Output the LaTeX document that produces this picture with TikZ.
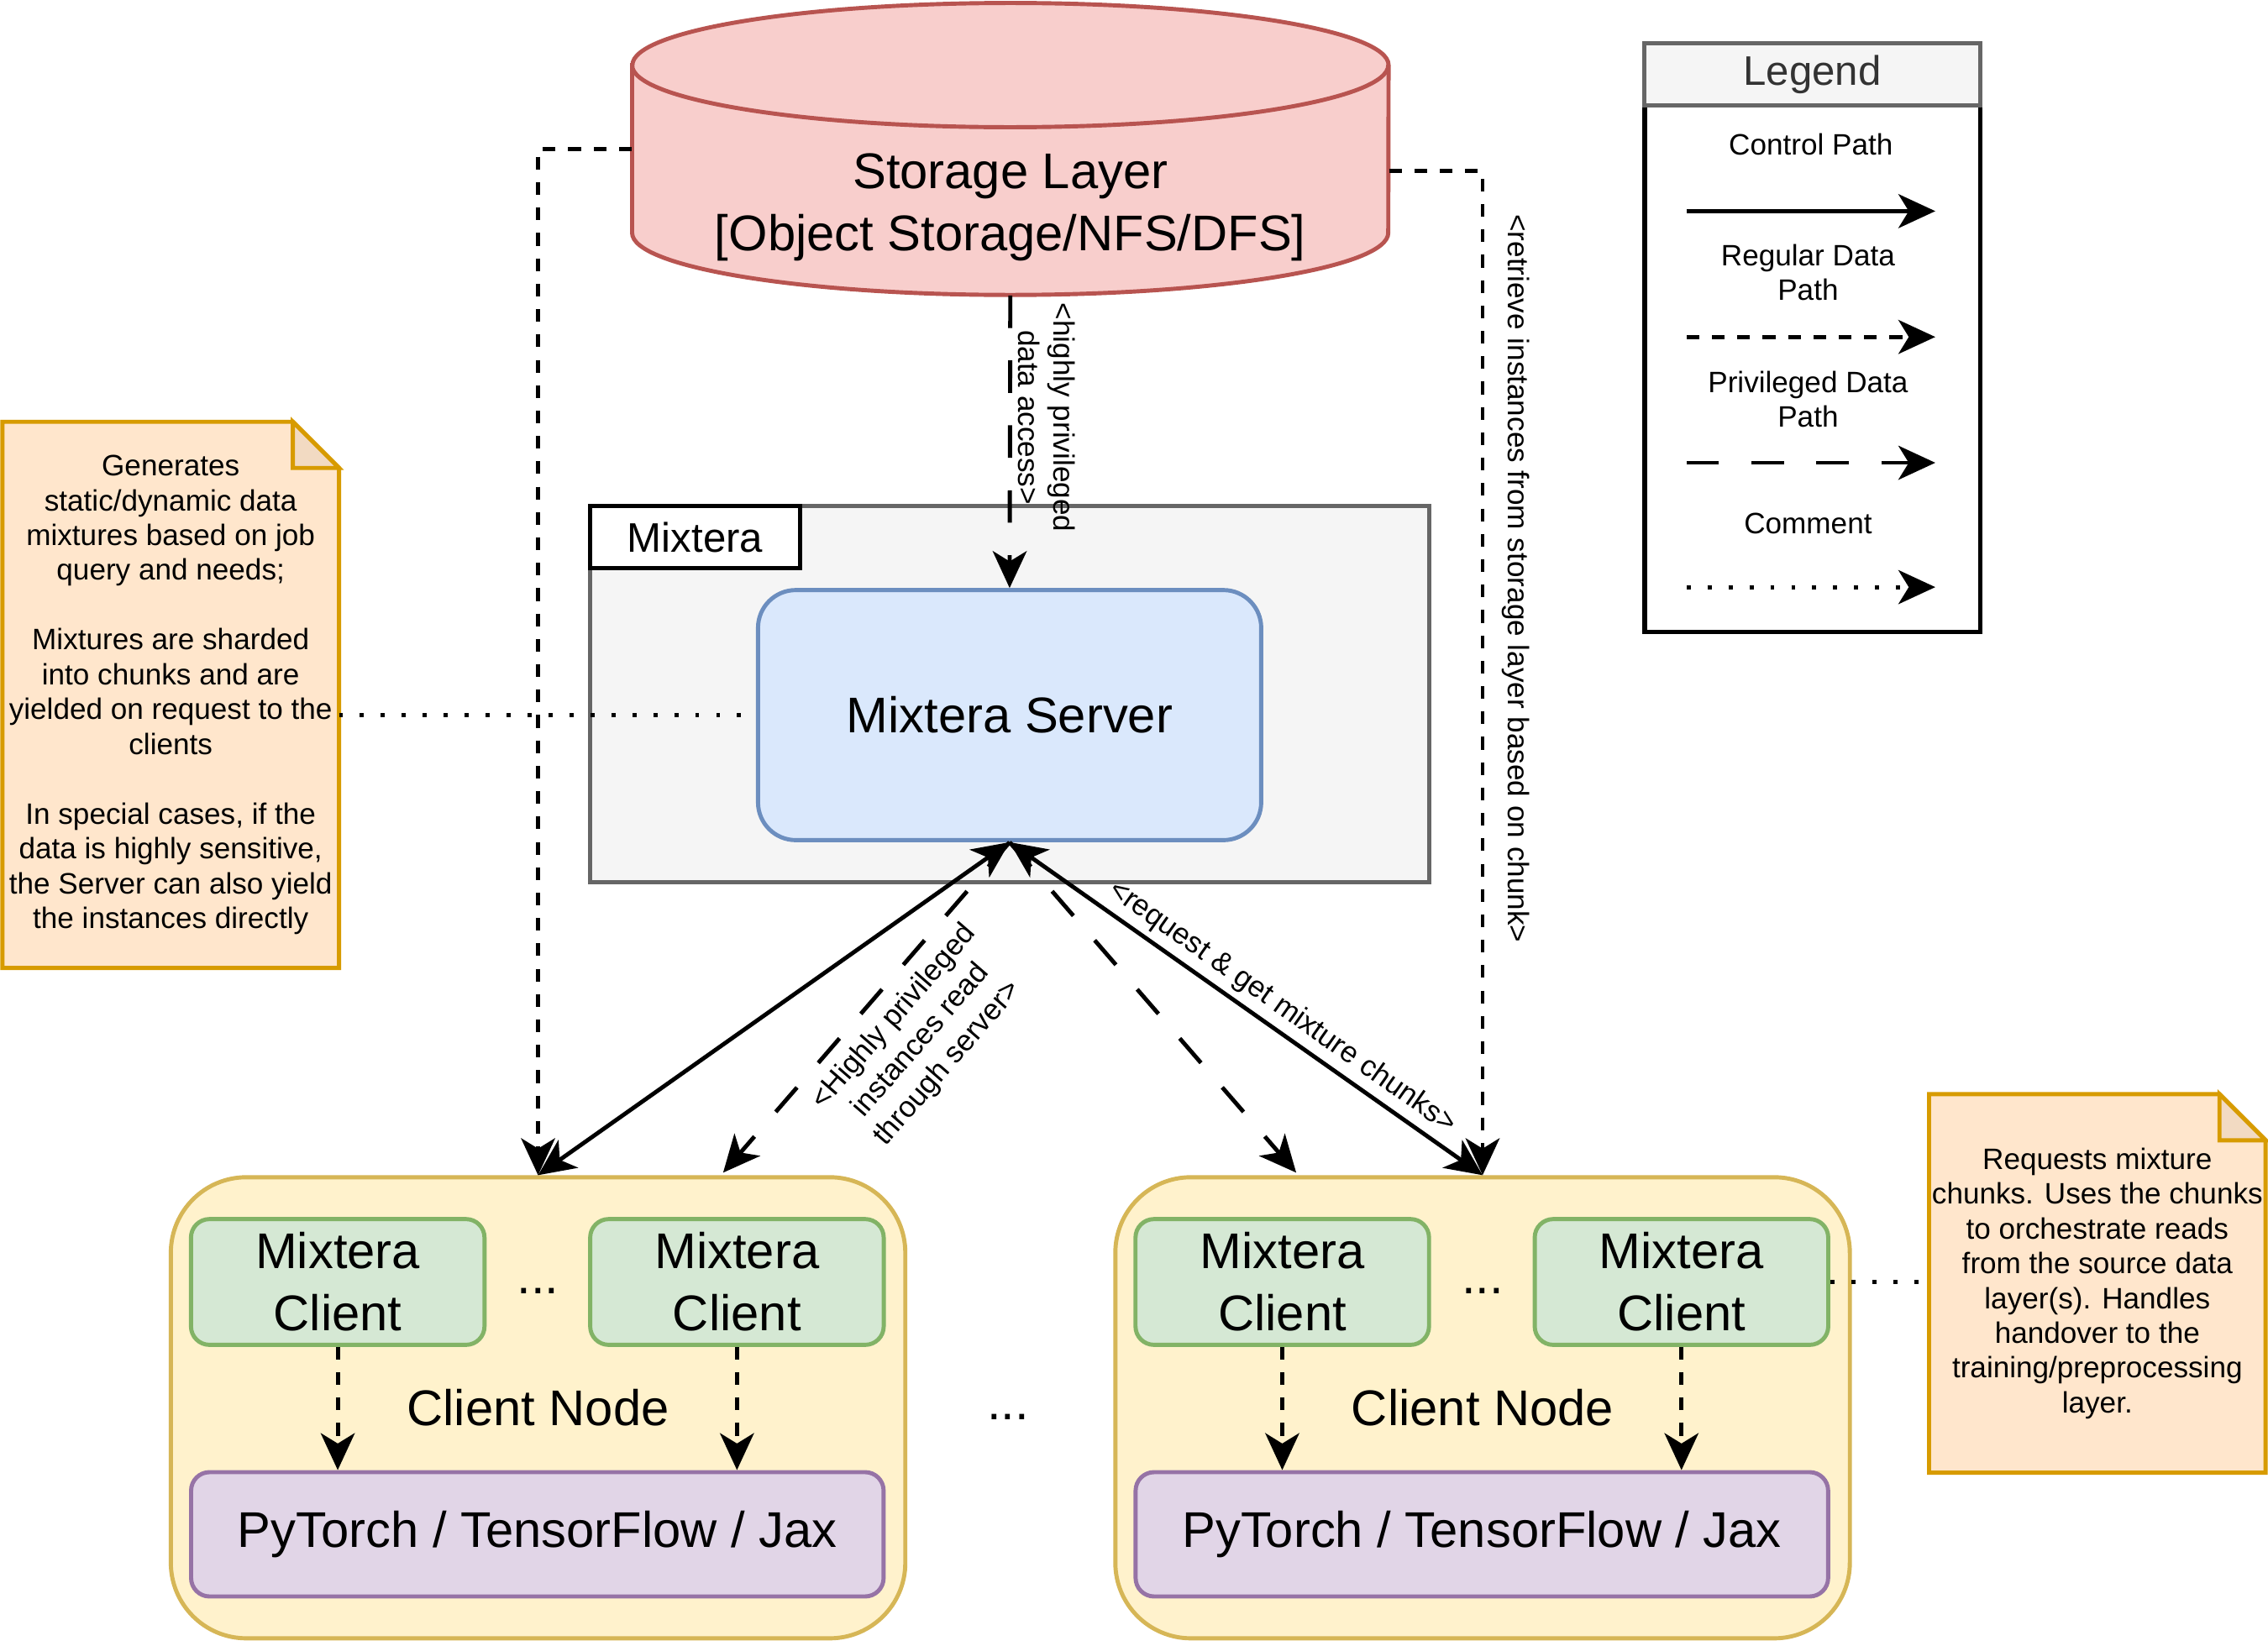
\documentclass[tikz,border=0pt]{standalone}
\usepackage{fontspec}
\setmainfont{Liberation Sans}
\usetikzlibrary{arrows.meta,backgrounds}
\definecolor{storefill}{HTML}{F8CECC}
\definecolor{storeline}{HTML}{B85450}
\definecolor{greyfill}{HTML}{F5F5F5}
\definecolor{greyline}{HTML}{666666}
\definecolor{serverfill}{HTML}{DAE8FC}
\definecolor{serverline}{HTML}{6C8EBF}
\definecolor{notefill}{HTML}{FFE6CC}
\definecolor{noteline}{HTML}{D79B00}
\definecolor{notefold}{HTML}{F2DAC2}
\definecolor{nodefill}{HTML}{FFF2CC}
\definecolor{nodeline}{HTML}{D6B656}
\definecolor{clientfill}{HTML}{D5E8D4}
\definecolor{clientline}{HTML}{82B366}
\definecolor{torchfill}{HTML}{E1D5E7}
\definecolor{torchline}{HTML}{9673A6}
\definecolor{legendtext}{HTML}{333333}

\begin{document}
\begin{tikzpicture}[x=0.01722cm, y=-0.01722cm,
        >={Stealth[length=12.5pt, width=11.5pt, inset=3.5pt]},
        bigtext/.style={font=\fontsize{17}{21}\selectfont, align=center},
        midtext/.style={font=\fontsize{14}{17}\selectfont, align=center},
        smalltext/.style={font=\fontsize{10}{11.8}\selectfont, align=center},
        lbl/.style={font=\fontsize{10}{12}\selectfont, align=center, inner sep=2pt},
        ctrl/.style={line width=1.4pt},
        reg/.style={line width=1.4pt, dash pattern=on 4.3pt off 4.3pt},
        priv/.style={line width=1.4pt, dash pattern=on 11pt off 11pt},
        cmt/.style={line width=1.4pt, dash pattern=on 1.4pt off 5.7pt},
        storebox/.style={minimum width=9.006cm, minimum height=3.478cm, inner sep=0pt},
        contbox/.style={draw=greyline, fill=greyfill, line width=1.4pt, minimum width=9.988cm, minimum height=4.477cm, inner sep=0pt},
        tagbox/.style={draw=black, fill=white, line width=1.4pt, minimum width=2.497cm, minimum height=0.74cm, inner sep=0pt, midtext},
        serverbox/.style={draw=serverline, fill=serverfill, line width=1.4pt, rounded corners=0.45cm, minimum width=5.993cm, minimum height=2.979cm, bigtext},
        notebox/.style={minimum width=3.995cm, inner sep=0pt, smalltext},
        notepaper/.style={draw=noteline, fill=notefill, line width=1.4pt},
        notecorner/.style={draw=noteline, fill=notefold, line width=1.4pt, line join=miter},
        cnode/.style={draw=nodeline, fill=nodefill, line width=1.4pt, rounded corners=0.9cm, minimum width=8.748cm, minimum height=5.493cm, bigtext},
        client/.style={draw=clientline, fill=clientfill, line width=1.4pt, rounded corners=0.22cm, minimum width=3.496cm, minimum height=1.498cm, inner sep=0pt, bigtext},
        torch/.style={draw=torchline, fill=torchfill, line width=1.4pt, rounded corners=0.22cm, minimum width=8.248cm, minimum height=1.481cm, bigtext},
        leghead/.style={draw=greyline, fill=greyfill, line width=1.4pt, minimum width=3.995cm, minimum height=0.74cm, inner sep=0pt, midtext, text=legendtext},
        legbody/.style={draw=black, line width=1.5pt, minimum width=3.995cm, minimum height=6.268cm, inner sep=0pt}]
        \useasboundingbox (0,0) rectangle (1568,1138);

        \node[storebox] (store) at (698.5,103) {};
        \filldraw[draw=storeline, fill=storefill, line width=1.4pt] (437,45) -- (437,161)
            arc[start angle=180, end angle=360, x radius=4.503cm, y radius=0.740cm] -- (960,45)
            arc[start angle=0, end angle=180, x radius=4.503cm, y radius=0.740cm] -- cycle;
        \draw[storeline, line width=1.4pt] (437,45) arc[start angle=180, end angle=360, x radius=4.503cm, y radius=0.740cm];
        \node[bigtext] (storetext) at (698.5,143.5) {Storage Layer\\{}[Object Storage/NFS/DFS]};

        \node[contbox] (mixtera) at (698,480) {};
        \node[tagbox, anchor=north west] (mixtag) at (mixtera.north west) {Mixtera};
        \node[serverbox] (server) at (698,494.5) {Mixtera Server};

        \node[notebox, minimum height=6.492cm] (noteL) at (118,480.5) {Generates\\static/dynamic data\\mixtures based on job\\query and needs;\\[11.8pt]Mixtures are sharded\\into chunks and are\\yielded on request to the\\clients\\[11.8pt]In special cases, if the\\data is highly sensitive,\\the Server can also yield\\the instances directly};
        \node[notebox, minimum height=4.494cm] (noteR) at (1450,887.5) {Requests mixture\\chunks. Uses the chunks\\to orchestrate reads\\from the source data\\layer(s). Handles\\handover to the\\training/preprocessing\\layer.};
        \begin{scope}[on background layer]
            \filldraw[notepaper] (noteL.north west) -- ([xshift=-0.55cm]noteL.north east) -- ([yshift=-0.55cm]noteL.north east) -- (noteL.south east) -- (noteL.south west) -- cycle;
            \filldraw[notecorner] ([xshift=-0.55cm]noteL.north east) -- ([xshift=-0.55cm, yshift=-0.55cm]noteL.north east) -- ([yshift=-0.55cm]noteL.north east) -- cycle;
            \filldraw[notepaper] (noteR.north west) -- ([xshift=-0.55cm]noteR.north east) -- ([yshift=-0.55cm]noteR.north east) -- (noteR.south east) -- (noteR.south west) -- cycle;
            \filldraw[notecorner] ([xshift=-0.55cm]noteR.north east) -- ([xshift=-0.55cm, yshift=-0.55cm]noteR.north east) -- ([yshift=-0.55cm]noteR.north east) -- cycle;
        \end{scope}

        \node[legbody] (legbody) at (1253,255) {};
        \node[leghead] (leghead) at (1253,51.5) {Legend};
        \node[smalltext] (lgctrl) at (1252,100) {Control Path};
        \node[smalltext] (lgreg) at (1250,188.5) {Regular Data\\Path};
        \node[smalltext] (lgpriv) at (1250,276) {Privileged Data\\Path};
        \node[smalltext] (lgcmt) at (1250,362) {Comment};
        \coordinate (lgc1) at (1166,146);
        \coordinate (lgc2) at (1338,146);
        \coordinate (lgr1) at (1166,233);
        \coordinate (lgr2) at (1338,233);
        \coordinate (lgp1) at (1166,320);
        \coordinate (lgp2) at (1338,320);
        \coordinate (lgm1) at (1166,406);
        \coordinate (lgm2) at (1338,406);
        \draw[ctrl, ->] (lgc1) -- (lgc2);
        \draw[reg, ->] (lgr1) -- (lgr2);
        \draw[priv, ->] (lgp1) -- (lgp2);
        \draw[cmt, ->] (lgm1) -- (lgm2);

        \node[cnode] (cnodeL) at (372,973.5) {Client Node};
        \node[client] (clLA) at (233.5,886.5) {Mixtera\\Client};
        \node[client] (clLB) at (509.5,886.5) {Mixtera\\Client};
        \node[bigtext] (dotsL) at (372,893) {...};
        \node[torch] (torchL) at (371.5,1061) {PyTorch / TensorFlow / Jax};

        \node[cnode] (cnodeR) at (1025,973.5) {Client Node};
        \node[client] (clRA) at (886.5,886.5) {Mixtera\\Client};
        \node[client] (clRB) at (1162.5,886.5) {Mixtera\\Client};
        \node[bigtext] (dotsR) at (1025,893) {...};
        \node[torch] (torchR) at (1024.5,1061) {PyTorch / TensorFlow / Jax};

        \node[bigtext] (dotsM) at (697,980) {...};

        \draw[reg, ->] (clLA.south) -- (clLA.south |- torchL.north);
        \draw[reg, ->] (clLB.south) -- (clLB.south |- torchL.north);
        \draw[reg, ->] (clRA.south) -- (clRA.south |- torchR.north);
        \draw[reg, ->] (clRB.south) -- (clRB.south |- torchR.north);

        \draw[priv, ->] (store.south) -- node[pos=0.417, anchor=south, rotate=-90, lbl] {<highly privileged\\data access>} (server.north);
        \draw[reg, ->] (store.west) -| (cnodeL.north);
        \draw[reg, ->] ([yshift=-0.26cm]store.east) -| node[pos=0.703, anchor=south, rotate=-90, lbl, inner sep=6pt] {<retrieve instances from storage layer based on chunk>} (cnodeR.north);
        \draw[ctrl, <->] (server.south) -- (cnodeL.north);
        \draw[ctrl, <->] (server.south) -- node[pos=0.55, sloped, above, lbl] {<request \& get mixture chunks>} (cnodeR.north);
        \draw[priv, ->] (server.south) -- node[pos=0.475, sloped, below, lbl, inner sep=4pt] {<Highly privileged\\instances read\\through server>} ([xshift=2.204cm, yshift=0.03cm]cnodeL.north);
        \draw[priv, ->] (server.south) -- ([xshift=-2.22cm, yshift=0.03cm]cnodeR.north);

        \draw[cmt] (server.west -| noteL.east) -- (server.west);
        \draw[cmt] (clRB.east) -- (clRB.east -| noteR.west);
      \end{tikzpicture}
\end{document}
